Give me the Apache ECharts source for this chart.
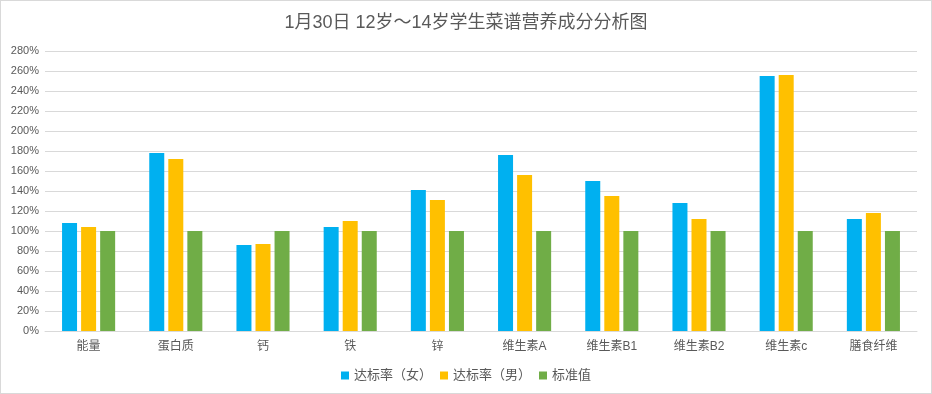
<!DOCTYPE html>
<html><head><meta charset="utf-8">
<script src="https://cdn.jsdelivr.net/npm/echarts@6/dist/echarts.min.js"></script>
<style>html,body{margin:0;padding:0;background:#fff}#c{width:930px;height:392px;border:1px solid #d9d9d9}</style>
</head><body><div id="c"></div>
<script>
const categories = ['能量','蛋白质','钙','铁','锌','维生素A','维生素B1','维生素B2','维生素c','膳食纤维'];
const female = [108,178,86,104,141,176,150,128,255,112];
const male = [104,172,87,110,131,156,135,112,256,118];
const standard = [100,100,100,100,100,100,100,100,100,100];
const seriesNames = ['达标率（女）','达标率（男）','标准值'];
const colors = ['#00b0f0','#ffc000','#70ad47'];
const font = 'Liberation Sans, "Noto Sans CJK SC", sans-serif';
const chart = echarts.init(document.getElementById('c'));
chart.setOption({
  animation:false,
  textStyle:{fontFamily:font},
  title:{text:'1月30日 12岁～14岁学生菜谱营养成分分析图',left:'center',top:8,
    textStyle:{fontSize:18,fontWeight:'normal',color:'#595959',fontFamily:font}},
  legend:{bottom:6,left:'center',itemWidth:8,itemHeight:8,itemGap:8,icon:'rect',
    textStyle:{fontSize:13,color:'#595959'},data:seriesNames},
  grid:{left:44,right:14,top:50,bottom:62,containLabel:false},
  xAxis:{type:'category',data:categories,
    axisLine:{lineStyle:{color:'#d9d9d9'}},axisTick:{show:false},
    axisLabel:{color:'#595959',fontSize:12,margin:10}},
  yAxis:{type:'value',min:0,max:280,interval:20,
    axisLabel:{formatter:'{value}%',color:'#595959',fontSize:11,margin:6},
    splitLine:{lineStyle:{color:'#d9d9d9'}},axisLine:{show:false},axisTick:{show:false}},
  series:[
    {name:seriesNames[0],type:'bar',data:female,barWidth:15,barGap:'27%',itemStyle:{color:colors[0]}},
    {name:seriesNames[1],type:'bar',data:male,barWidth:15,barGap:'27%',itemStyle:{color:colors[1]}},
    {name:seriesNames[2],type:'bar',data:standard,barWidth:15,barGap:'27%',itemStyle:{color:colors[2]}}
  ]
});
</script></body></html>
